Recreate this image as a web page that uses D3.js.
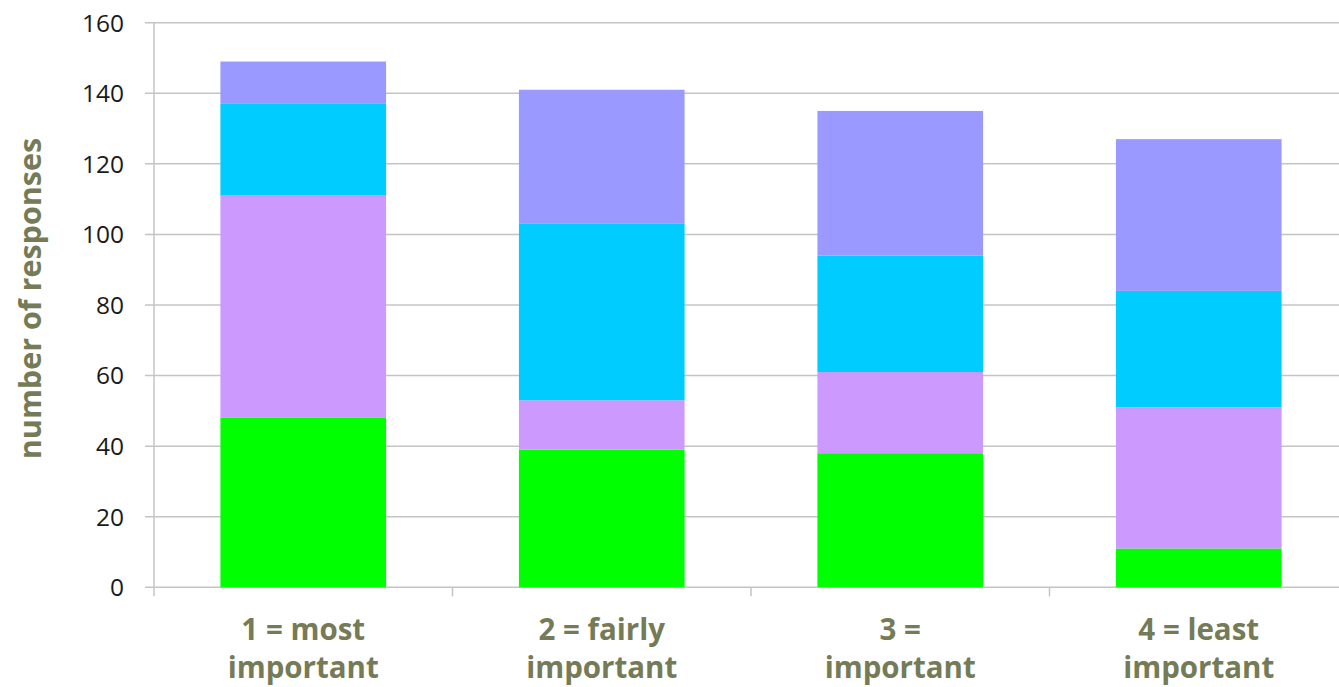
<!DOCTYPE html>
<html><head><meta charset="utf-8">
<script src="https://cdn.jsdelivr.net/npm/d3@7"></script>
<style>html,body{margin:0;padding:0;background:#fff;}svg{display:block;}</style>
</head><body>
<svg id="chart" width="1339" height="687"></svg>
<script>
const categories = [["1 = most","important"],["2 = fairly","important"],["3 =","important"],["4 = least","important"]];
const seriesNames = ["s1","s2","s3","s4"];
const seriesColors = ["#00ff00","#cc99ff","#00ccff","#9999ff"];
const s1 = [48, 39, 38, 11];
const s2 = [63, 14, 23, 40];
const s3 = [26, 50, 33, 33];
const s4 = [12, 38, 41, 43];
const yTicks = [0,20,40,60,80,100,120,140,160];
const yTitle = "number of responses";

const svg = d3.select("#chart");
const x0 = 154, yBottom = 587.3, yTop = 22.7;
const catW = 298.5;
const x = d3.scaleBand().domain(d3.range(categories.length)).range([x0, x0 + catW*categories.length]).paddingInner(0.445).paddingOuter(0.2225);
const y = d3.scaleLinear().domain([0,160]).range([yBottom, yTop]);

const rows = categories.map((c,i)=>({i, s1:s1[i], s2:s2[i], s3:s3[i], s4:s4[i]}));
const stack = d3.stack().keys(seriesNames)(rows);

const font = "'Open Sans', 'Noto Sans', sans-serif";

// gridlines
svg.append("g").selectAll("line").data(yTicks).join("line")
  .attr("x1", x0-9).attr("x2", 1339)
  .attr("y1", d=>y(d)).attr("y2", d=>y(d))
  .attr("stroke", "#c4c4c4").attr("stroke-width", 1.5);

// y axis line
svg.append("line").attr("x1",x0).attr("x2",x0).attr("y1",yTop).attr("y2",yBottom+9)
  .attr("stroke","#c4c4c4").attr("stroke-width",1.5);

// category ticks
const bounds = d3.range(1, categories.length+1).map(i => x0 + catW*i);
svg.append("g").selectAll("line").data(bounds).join("line")
  .attr("x1",d=>d).attr("x2",d=>d).attr("y1",yBottom).attr("y2",yBottom+9)
  .attr("stroke","#c4c4c4").attr("stroke-width",1.5);

// bars
svg.append("g").selectAll("g").data(stack).join("g")
  .attr("fill",(d,k)=>seriesColors[k])
  .selectAll("rect").data(d=>d).join("rect")
  .attr("x", d=>x(d.data.i)).attr("width", x.bandwidth())
  .attr("y", d=>y(d[1])).attr("height", d=>y(d[0])-y(d[1]));

// y tick labels
svg.append("g").selectAll("text").data(yTicks).join("text")
  .attr("x", 124).attr("y", d=>y(d)).attr("dy","0.36em")
  .attr("text-anchor","end")
  .attr("font-family",font)
  .attr("font-size", 24.5).attr("fill","#1a1a1a")
  .text(d=>d);

// category labels
const cl = svg.append("g").selectAll("text").data(categories).join("text")
  .attr("text-anchor","middle")
  .attr("font-family",font)
  .attr("font-weight","bold").attr("font-size", 29.5).attr("fill","#747b56");
cl.each(function(d,i){
  const t = d3.select(this);
  const cx = x(i) + x.bandwidth()/2;
  d.forEach((line,j)=>{
    t.append("tspan").attr("x",cx).attr("y", 640 + j*38).text(line);
  });
});

// y title
svg.append("text")
  .attr("transform","translate(41,298.5) rotate(-90)")
  .attr("text-anchor","middle")
  .attr("font-family",font)
  .attr("font-weight","bold").attr("font-size", 30.5).attr("fill","#747b56")
  .text(yTitle);
</script>
</body></html>
